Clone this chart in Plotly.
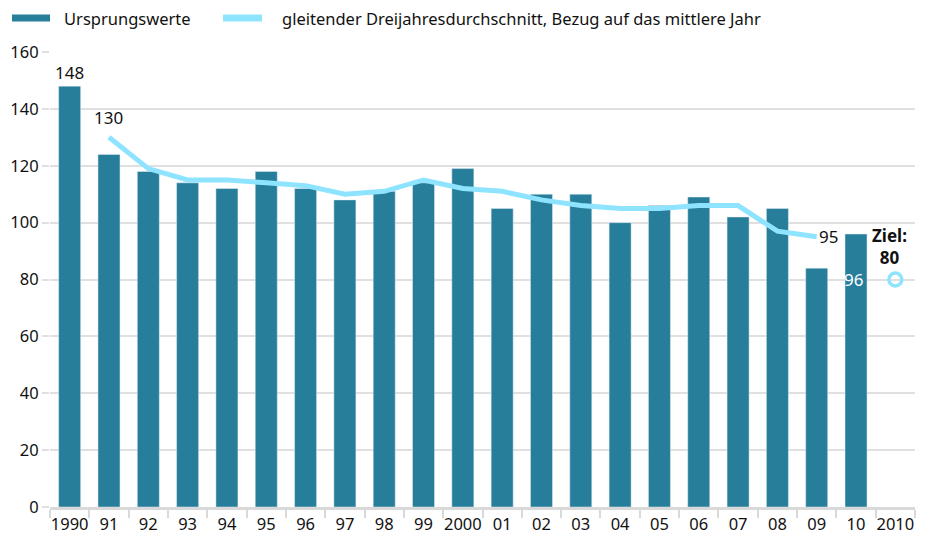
import plotly.graph_objects as go

categories = ["1990", "91", "92", "93", "94", "95", "96", "97", "98", "99", "2000",
              "01", "02", "03", "04", "05", "06", "07", "08", "09", "10", "2010"]
bar_years = categories[:21]
bar_values = [148, 124, 118, 114, 112, 118, 112, 108, 111, 114, 119,
              105, 110, 110, 100, 106, 109, 102, 105, 84, 96]
avg_years = categories[1:20]
avg_values = [130, 119, 115, 115, 114, 113, 110, 111, 115, 112,
              111, 108, 106, 105, 105, 106, 106, 97, 95]
target_year = "2010"
target_value = 80
y_ticks = [0, 20, 40, 60, 80, 100, 120, 140, 160]
legend_names = ["Ursprungswerte",
                "gleitender Dreijahresdurchschnitt, Bezug auf das mittlere Jahr"]

BAR = "#267e9b"
LINE = "#8ee4ff"
FONT = "Noto Sans"
OFF = 8  # default page body margin
W, H = 925 - 2 * OFF, 542 - 2 * OFF
ML, MR, MT, MB = 50 - OFF, W + OFF - 915, 52 - OFF, H + OFF - 507
PW = W - ML - MR
PH = H - MT - MB


def px_x(p):
    return (p - OFF - ML) / PW


def px_y(p):
    return (H - MB - (p - OFF)) / PH


def idx(cat):
    return categories.index(cat)


fig = go.Figure()
fig.add_trace(go.Bar(x=bar_years, y=bar_values, marker_color=BAR, showlegend=False))
fig.add_trace(go.Scatter(x=avg_years, y=avg_values, mode="lines",
                         line=dict(color=LINE, width=5), showlegend=False))
fig.add_trace(go.Scatter(x=[target_year], y=[target_value], mode="markers",
                         marker=dict(symbol="circle-open", size=13, color=LINE,
                                     line=dict(width=3.5, color=LINE)),
                         showlegend=False))

ann = [
    dict(x=idx(bar_years[0]), y=bar_values[0], text=str(bar_values[0]), yshift=14,
         showarrow=False, font=dict(size=17, color="#111")),
    dict(x=idx(avg_years[0]), y=avg_values[0], text=str(avg_values[0]), yshift=20,
         showarrow=False, font=dict(size=17, color="#111")),
    dict(x=idx(avg_years[-1]), y=avg_values[-1], text=str(avg_values[-1]), xshift=0,
         xanchor="left", showarrow=False, font=dict(size=17, color="#111")),
    dict(x=idx(bar_years[-1]), y=target_value, text=str(bar_values[-1]), xshift=-3,
         showarrow=False, font=dict(size=17, color="white")),
    dict(x=idx(target_year), y=target_value, text="<b>Ziel:<br>80</b>", yshift=33,
         xshift=-6, showarrow=False, font=dict(size=17, color="#111")),
]

# manual legend
shapes = []
leg_y = px_y(18)
for (x0, x1, tx), name, col in zip([(12, 50, 62), (223, 262, 280)], legend_names, [BAR, LINE]):
    shapes.append(dict(type="line", xref="paper", yref="paper", x0=px_x(x0), x1=px_x(x1),
                       y0=leg_y, y1=leg_y, line=dict(color=col, width=7)))
    ann.append(dict(xref="paper", yref="paper", x=px_x(tx), y=leg_y, text=name,
                    xanchor="left", yanchor="middle", showarrow=False,
                    font=dict(size=16.5, color="#111")))

fig.update_layout(
    width=W, height=H,
    margin=dict(l=ML, r=MR, t=MT, b=MB, autoexpand=False),
    plot_bgcolor="white", paper_bgcolor="white",
    font=dict(family=FONT, size=16, color="#111"),
    bargap=0.44,
    showlegend=False,
    annotations=ann,
    shapes=shapes,
    xaxis=dict(type="category", categoryorder="array", categoryarray=categories,
               range=[-0.5, len(categories) - 0.5], tickangle=0,
               tickson="boundaries", ticks="outside", ticklen=8, tickwidth=2,
               tickcolor="#d9d9d9", showline=True, linecolor="#d9d9d9", linewidth=3,
               showgrid=False, tickfont=dict(size=16.5), ticklabelstandoff=0),
    yaxis=dict(range=[0, 160], tickvals=y_ticks, showgrid=True, gridcolor="#e0e0e0",
               gridwidth=2, zeroline=False, ticks="outside", ticklen=7, tickwidth=2,
               tickcolor="#e0e0e0", tickfont=dict(size=16.5)),
)

fig.write_html("out.html")
